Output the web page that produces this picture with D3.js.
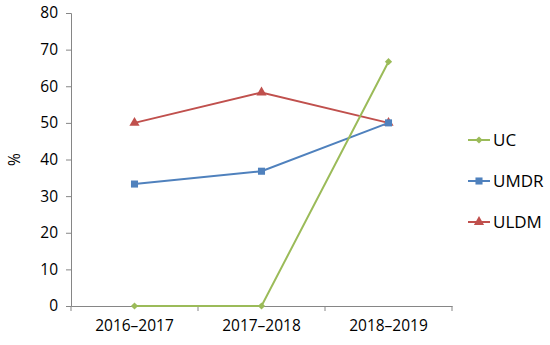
<!DOCTYPE html>
<html>
<head>
<meta charset="utf-8">
<script src="https://cdn.jsdelivr.net/npm/d3@7"></script>
<style>
  body { margin: 0; background: #fff; }
  text { font-family: "Open Sans", "Liberation Sans", sans-serif; fill: #000; }
</style>
</head>
<body>
<div id="chart"></div>
<script>
// data
var years = ["2016\u20132017", "2017\u20132018", "2018\u20132019"];
var ucValues = [0, 0, 66.7];
var umdrValues = [33.3, 36.8, 50];
var uldmValues = [50, 58.3, 50];
var yTicks = [0, 10, 20, 30, 40, 50, 60, 70, 80];

// rotate: 45 turns a square into the Excel-like diamond
var series = [
    { name: "UC", values: ucValues, color: "#9BBB59", symbol: d3.symbolSquare, size: 26, rotate: 45 },
    { name: "UMDR", values: umdrValues, color: "#4F81BD", symbol: d3.symbolSquare, size: 50, rotate: 0 },
    { name: "ULDM", values: uldmValues, color: "#C0504D", symbol: d3.symbolTriangle, size: 45, rotate: 0 }
];

var width = 550, height = 345;
var plotLeft = 71, plotRight = 452, plotTop = 13, plotBottom = 306;

var svg = d3.select("#chart").append("svg")
    .attr("width", width)
    .attr("height", height);

var x = d3.scaleBand().domain(years).range([plotLeft, plotRight]);
var y = d3.scaleLinear().domain([0, 80]).range([plotBottom, plotTop]);

// y axis
var yAxis = svg.append("g")
    .attr("transform", "translate(" + plotLeft + ",0)")
    .call(d3.axisLeft(y).tickValues(yTicks).tickSize(5).tickPadding(8));
yAxis.select(".domain").attr("stroke", "#868686");
yAxis.selectAll(".tick line").attr("stroke", "#868686");
yAxis.selectAll(".tick text").style("font-size", "15.5px");

// x axis
var xAxis = svg.append("g")
    .attr("transform", "translate(0," + plotBottom + ")")
    .call(d3.axisBottom(x).tickSize(0).tickPadding(14));
xAxis.select(".domain").attr("stroke", "#868686");
xAxis.selectAll(".tick text").style("font-size", "15.5px");
// tick marks on band boundaries
svg.append("g").selectAll("line")
    .data(years.concat(["end"]))
    .enter().append("line")
    .attr("x1", function (d, i) { return plotLeft + i * x.step(); })
    .attr("x2", function (d, i) { return plotLeft + i * x.step(); })
    .attr("y1", plotBottom)
    .attr("y2", plotBottom + 5)
    .attr("stroke", "#868686");

// y label
svg.append("text")
    .attr("transform", "translate(20," + (plotTop + plotBottom) / 2 + ") rotate(-90)")
    .attr("text-anchor", "middle")
    .style("font-size", "15.5px")
    .text("%");

var line = d3.line()
    .x(function (d, i) { return x(years[i]) + x.bandwidth() / 2; })
    .y(function (d) { return y(d); });

// draw in reverse so UC sits on top
series.slice().reverse().forEach(function (s) {
    svg.append("path")
        .datum(s.values)
        .attr("d", line)
        .attr("fill", "none")
        .attr("stroke", s.color)
        .attr("stroke-width", 2);
    svg.append("g").selectAll("path")
        .data(s.values)
        .enter().append("path")
        .attr("d", d3.symbol().type(s.symbol).size(s.size))
        .attr("transform", function (d, i) {
            return "translate(" + (x(years[i]) + x.bandwidth() / 2) + "," + y(d) + ") rotate(" + s.rotate + ")";
        })
        .attr("fill", s.color);
});

// legend
var legend = svg.append("g").selectAll("g")
    .data(series)
    .enter().append("g")
    .attr("transform", function (d, i) { return "translate(468," + (140 + i * 41) + ")"; });
legend.append("line")
    .attr("x1", 0).attr("x2", 22)
    .attr("stroke", function (d) { return d.color; })
    .attr("stroke-width", 2);
legend.append("path")
    .attr("d", function (d) { return d3.symbol().type(d.symbol).size(d.size)(); })
    .attr("transform", function (d) { return "translate(11,0) rotate(" + d.rotate + ")"; })
    .attr("fill", function (d) { return d.color; });
legend.append("text")
    .attr("x", 25)
    .attr("dy", "0.35em")
    .style("font-size", "17px")
    .text(function (d) { return d.name; });
</script>
</body>
</html>
